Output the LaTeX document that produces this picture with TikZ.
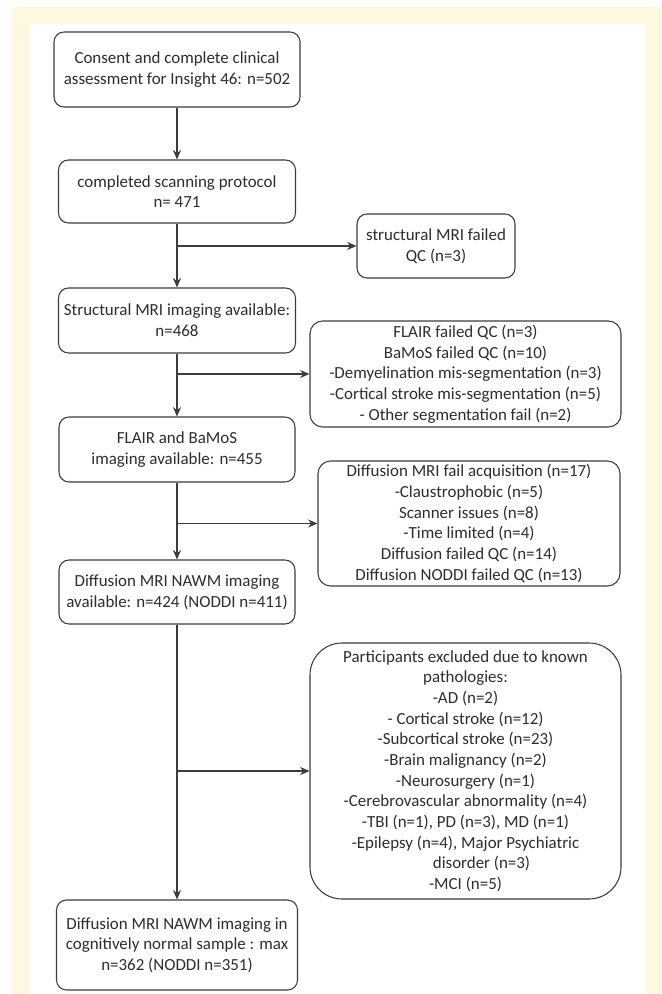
\documentclass[tikz,border=0pt]{standalone}
\usepackage{xcolor}
\usepackage{fontspec}
\usepackage{tikz}
\usetikzlibrary{arrows.meta}
\setmainfont{Carlito}
\definecolor{cream}{RGB}{255,248,224}
\definecolor{linec}{RGB}{60,60,60}
\definecolor{textc}{RGB}{45,45,45}
\tikzset{
	stage/.style={draw=linec, line width=0.8pt, rounded corners=7.5pt, align=center, inner sep=0pt, text=textc, font=\fontsize{12.7pt}{15.5pt}\selectfont},
	excl/.style={stage, rounded corners=9.5pt},
	flow/.style={draw=linec, line width=0.8pt, -{Stealth[length=7pt,width=6pt]}}
}

\begin{document}
\begin{tikzpicture}[x=0.75pt, y=-0.75pt]
			\useasboundingbox (0,0) rectangle (661,994);
			\fill[white] (0,0) rectangle (661,994);
			\fill[cream] (12,7) rectangle (661,994);
			\fill[white] (30,24) rectangle (646,994);
			\node[stage, minimum width=184.5pt, minimum height=56.25pt] (consent) at (177,69.5) {Consent and complete clinical\\assessment for Insight 46: n=502};
			\node[stage, minimum width=177.75pt, minimum height=47.25pt] (scan) at (177,191.5) {completed scanning protocol\\n= 471};
			\node[stage, minimum width=177.75pt, minimum height=48.75pt] (struct) at (177,320.5) {Structural MRI imaging available:\\n=468};
			\node[stage, minimum width=177pt, minimum height=48.75pt] (flair) at (177,449.5) {FLAIR and BaMoS\\imaging available: n=455};
			\node[stage, minimum width=177pt, minimum height=48pt] (nawm) at (177,592) {Diffusion MRI NAWM imaging\\available: n=424 (NODDI n=411)};
			\node[stage, minimum width=180.75pt, minimum height=67.5pt] (normal) at (177,945) {Diffusion MRI NAWM imaging in\\cognitively normal sample : max\\n=362 (NODDI n=351)};
			\node[stage, minimum width=118.5pt, minimum height=48pt] (qcfail) at (436,246) {structural MRI failed\\QC (n=3)};
			\node[excl, minimum width=233.25pt, minimum height=79.5pt] (segfail) at (465.5,374) {FLAIR failed QC (n=3)\\BaMoS failed QC (n=10)\\-Demyelination mis-segmentation (n=3)\\-Cortical stroke mis-segmentation (n=5)\\- Other segmentation fail (n=2)};
			\node[excl, minimum width=226.5pt, minimum height=93.75pt] (dtifail) at (469,523.5) {Diffusion MRI fail acquisition (n=17)\\-Claustrophobic (n=5)\\Scanner issues (n=8)\\-Time limited (n=4)\\Diffusion failed QC (n=14)\\Diffusion NODDI failed QC (n=13)};
			\node[excl, rounded corners=24pt, minimum width=233.25pt, minimum height=192pt] (patho) at (465.5,771) {Participants excluded due to known\\pathologies:\\-AD (n=2)\\- Cortical stroke (n=12)\\-Subcortical stroke (n=23)\\-Brain malignancy (n=2)\\-Neurosurgery (n=1)\\-Cerebrovascular abnormality (n=4)\\-TBI (n=1), PD (n=3), MD (n=1)\\-Epilepsy (n=4), Major Psychiatric\\\hspace*{24pt}disorder (n=3)\\-MCI (n=5)};
			\draw[flow] (consent) -- (scan);
			\draw[flow] (scan) -- (struct);
			\draw[flow] (struct) -- (flair);
			\draw[flow] (flair) -- (nawm);
			\draw[flow] (nawm) -- (normal);
			\draw[flow] (scan.south |- qcfail.west) -- (qcfail.west);
			\draw[flow] (struct.south |- segfail.west) -- (segfail.west);
			\draw[flow] (flair.south |- dtifail.west) -- (dtifail.west);
			\draw[flow] (nawm.south |- patho.west) -- (patho.west);
\end{tikzpicture}
\end{document}
